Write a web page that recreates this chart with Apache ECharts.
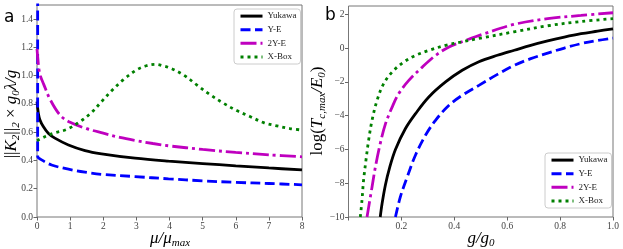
<!DOCTYPE html>
<html>
<head>
<meta charset="utf-8">
<script src="https://cdn.jsdelivr.net/npm/echarts@6/dist/echarts.min.js"></script>
<style>
html,body{margin:0;padding:0;background:#fff;}
#chart{width:623px;height:249px;}
</style>
</head>
<body>
<div id="chart"></div>
<script>
// ---- Panel a data: ||K2||2 x g0 lambda / g vs mu/mu_max ----
var seriesNames = ['Yukawa', 'Y-E', '2Y-E', 'X-Box'];

var yukawaMu = [0, 0.04, 0.09, 0.19, 0.34, 0.54, 0.95, 1.45, 1.95, 2.96, 3.97, 5, 6, 7, 8];
var yukawaK  = [0.817, 0.735, 0.687, 0.64, 0.593, 0.558, 0.51, 0.47, 0.447, 0.416, 0.395, 0.378, 0.362, 0.347, 0.333];

var yeMu = [0.02, 0.02, 0.14, 0.44, 0.95, 1.45, 1.95, 2.96, 3.97, 5, 6, 7, 8];
var yeK  = [3.0, 0.43, 0.404, 0.368, 0.338, 0.317, 0.302, 0.286, 0.27, 0.256, 0.245, 0.237, 0.228];

var twoYEMu = [0, 0.05, 0.1, 0.2, 0.4, 0.7, 1.0, 1.5, 2, 2.5, 3, 3.5, 4, 5, 6, 7, 8];
var twoYEK  = [1.19, 1.06, 1.0, 0.94, 0.83, 0.72, 0.67, 0.625, 0.593, 0.563, 0.54, 0.52, 0.503, 0.478, 0.457, 0.44, 0.426];

var xboxMu = [0, 0.25, 0.5, 0.9, 1.3, 1.65, 1.95, 2.26, 2.6, 3.0, 3.3, 3.6, 3.8, 4.02, 4.42, 4.82, 5.23, 5.63, 6.03, 6.43, 6.84, 7.24, 7.64, 8];
var xboxK  = [0.54, 0.57, 0.593, 0.62, 0.675, 0.74, 0.817, 0.895, 0.97, 1.04, 1.07, 1.08, 1.07, 1.054, 1.006, 0.935, 0.865, 0.805, 0.753, 0.711, 0.668, 0.645, 0.626, 0.615];

// ---- Panel b data: log(Tc,max/E0) vs g/g0 ----
var yukawaG = [0.12, 0.127, 0.1395, 0.155, 0.1775, 0.2154, 0.2533, 0.3037, 0.367, 0.43, 0.493, 0.563, 0.627, 0.689, 0.753, 0.816, 0.879, 0.942, 1.0];
var yukawaT = [-10, -9.2, -8.1, -7.1, -6.0, -4.76, -3.88, -2.89, -2.0, -1.31, -0.8, -0.42, -0.12, 0.17, 0.43, 0.66, 0.86, 1.01, 1.15];

var yeG = [0.1775, 0.196, 0.222, 0.253, 0.291, 0.329, 0.38, 0.43, 0.493, 0.563, 0.626, 0.689, 0.753, 0.816, 0.879, 0.942, 1.0];
var yeT = [-10, -8.81, -7.63, -6.34, -5.16, -4.27, -3.38, -2.79, -2.2, -1.55, -1.02, -0.62, -0.29, 0.01, 0.27, 0.46, 0.6];

var twoYEG = [0.070, 0.089, 0.1016, 0.12, 0.14, 0.165, 0.19, 0.228, 0.279, 0.329, 0.38, 0.443, 0.506, 0.626, 0.753, 0.879, 1.0];
var twoYET = [-10, -8.22, -7.04, -5.65, -4.47, -3.49, -2.69, -1.91, -1.12, -0.43, 0.07, 0.46, 0.82, 1.41, 1.75, 1.94, 2.1];

var xboxG = [0.0447, 0.051, 0.057, 0.066, 0.076, 0.089, 0.108, 0.133, 0.165, 0.209, 0.253, 0.304, 0.367, 0.43, 0.5, 0.626, 0.753, 0.879, 1.0];
var xboxT = [-10, -9.0, -7.82, -6.64, -5.46, -4.27, -3.09, -2.1, -1.41, -0.82, -0.43, -0.13, 0.17, 0.38, 0.6, 0.97, 1.33, 1.58, 1.75];

// tick settings
var muTicks = {min: 0, max: 8, interval: 1};
var kTicks = {min: 0, max: 1.5, interval: 0.2};
var gTicks = {min: 0, max: 1, interval: 0.2};
var tTicks = {min: -10, max: 2.5, interval: 2};

function zip(xs, ys) { return xs.map(function (x, i) { return [x, ys[i]]; }); }

var colors = {'Yukawa': '#000000', 'Y-E': '#0000ff', '2Y-E': '#bf00bf', 'X-Box': '#008000'};
var dashes = {'Yukawa': 'solid', 'Y-E': [10, 4.5], '2Y-E': [16, 4, 3, 4], 'X-Box': [3, 4]};
var LW = 2.8;
var serif = '"Liberation Serif", "DejaVu Serif", serif';
var tickColor = '#444';

function mkSeries(name, data, xi, yi) {
  return {
    name: name, type: 'line', xAxisIndex: xi, yAxisIndex: yi,
    data: data, symbol: 'none', smooth: 0.35, clip: true,
    lineStyle: {color: colors[name], width: LW, type: dashes[name], cap: 'butt'},
    itemStyle: {color: colors[name]},
    emphasis: {disabled: true}, animation: false
  };
}

function axisCommon() {
  return {
    axisLine: {show: false, onZero: false},
    axisTick: {show: true, inside: false, length: 3.5, lineStyle: {color: '#666', width: 1}},
    splitLine: {show: false},
    axisLabel: {color: tickColor, fontFamily: serif, fontSize: 9.5, margin: 4}
  };
}

function mkAxis(gi, t, fmt, hideMax) {
  var a = axisCommon();
  a.type = 'value'; a.gridIndex = gi; a.min = t.min; a.max = t.max; a.interval = t.interval;
  a.axisLabel.formatter = fmt;
  if (hideMax) { a.axisLabel.showMaxLabel = false; }
  return a;
}

var legendCommon = {
  orient: 'vertical', itemWidth: 22, itemHeight: 10, itemGap: 4.6,
  padding: [2.6, 4, 2.6, 5],
  backgroundColor: '#fff', borderColor: '#cccccc', borderWidth: 1, borderRadius: 3,
  textStyle: {fontFamily: serif, fontSize: 9, color: '#222'},
  itemStyle: {opacity: 0},
  lineStyle: {width: 3},
  data: seriesNames, selectedMode: false
};

var sub = {fontFamily: serif, fontStyle: 'italic', fontSize: 11, lineHeight: 12, verticalAlign: 'bottom', color: '#333'};
var mth = {fontFamily: serif, fontStyle: 'italic', fontSize: 17, lineHeight: 20, color: '#333'};
var upr = {fontFamily: serif, fontSize: 17, lineHeight: 20, color: '#333'};

var chart = echarts.init(document.getElementById('chart'), null, {renderer: 'canvas'});
chart.setOption({
  animation: false,
  backgroundColor: '#fff',
  grid: [
    {left: 37, top: 5, width: 265, height: 212, show: true, borderColor: '#777', borderWidth: 1, backgroundColor: 'transparent'},
    {left: 348.5, top: 6, width: 264.5, height: 211, show: true, borderColor: '#777', borderWidth: 1, backgroundColor: 'transparent'}
  ],
  xAxis: [
    mkAxis(0, muTicks, function (v) { return String(v); }, false),
    mkAxis(1, gTicks, function (v) { return v === 0 ? '' : v.toFixed(1); }, false)
  ],
  yAxis: [
    mkAxis(0, kTicks, function (v) { return v.toFixed(1); }, true),
    mkAxis(1, tTicks, function (v) { return String(v).replace('-', '\u2212'); }, true)
  ],
  legend: [
    Object.assign({left: 234, top: 9}, legendCommon),
    Object.assign({left: 545, top: 153}, legendCommon)
  ],
  series: [
    mkSeries('Yukawa', zip(yukawaMu, yukawaK), 0, 0),
    mkSeries('Y-E', zip(yeMu, yeK), 0, 0),
    mkSeries('2Y-E', zip(twoYEMu, twoYEK), 0, 0),
    mkSeries('X-Box', zip(xboxMu, xboxK), 0, 0),
    mkSeries('Yukawa', zip(yukawaG, yukawaT), 1, 1),
    mkSeries('Y-E', zip(yeG, yeT), 1, 1),
    mkSeries('2Y-E', zip(twoYEG, twoYET), 1, 1),
    mkSeries('X-Box', zip(xboxG, xboxT), 1, 1)
  ],
  graphic: [
    {type: 'text', x: 4, y: 9, style: {text: 'a', font: '17px "DejaVu Sans", sans-serif', fill: '#000'}},
    {type: 'text', x: 325, y: 7, style: {text: 'b', font: '17px "DejaVu Sans", sans-serif', fill: '#000'}},
    {type: 'text', x: 12, y: 114, rotation: Math.PI / 2,
     style: {text: '{u|||}{m|K}{s|2}{u|||}{s|2}{u| \u00d7 }{m|g}{s|0}{m|\u03bb/g}', align: 'center', verticalAlign: 'middle',
             rich: {u: upr, m: mth, s: sub}}},
    {type: 'text', x: 170, y: 239,
     style: {text: '{m|\u03bc/\u03bc}{s|max}', align: 'center', verticalAlign: 'middle',
             rich: {m: mth, s: sub}}},
    {type: 'text', x: 318, y: 111, rotation: Math.PI / 2,
     style: {text: '{u|log(}{m|T}{s|c,max}{m|/E}{s|0}{u|)}', align: 'center', verticalAlign: 'middle',
             rich: {u: upr, m: mth, s: sub}}},
    {type: 'text', x: 481, y: 239,
     style: {text: '{m|g/g}{s|0}', align: 'center', verticalAlign: 'middle',
             rich: {m: mth, s: sub}}}
  ]
});
</script>
</body>
</html>
